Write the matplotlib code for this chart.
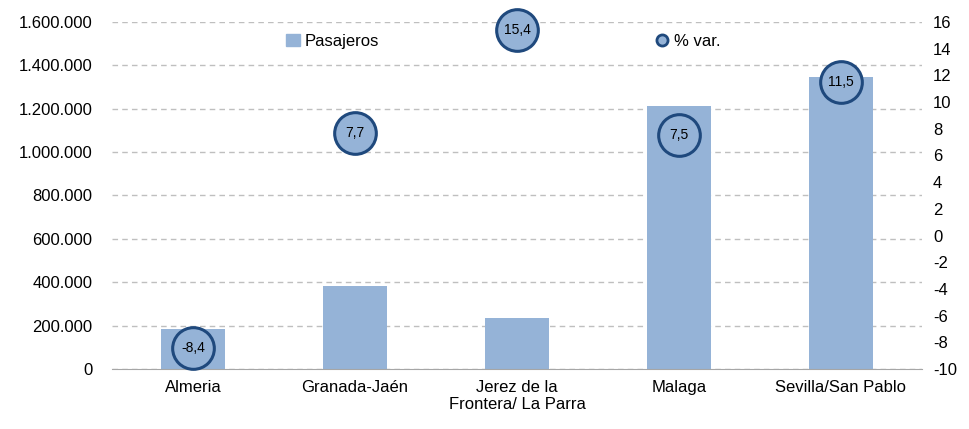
import numpy as np
import matplotlib.pyplot as plt
from matplotlib.lines import Line2D
from matplotlib.patches import Patch

# datos
aeropuertos = ["Almeria", "Granada-Jaén", "Jerez de la\nFrontera/ La Parra", "Malaga", "Sevilla/San Pablo"]
pasajeros = [184000, 383000, 235000, 1213000, 1346000]
variacion = [-8.4, 7.7, 15.4, 7.5, 11.5]
etiquetas_var = ["-8,4", "7,7", "15,4", "7,5", "11,5"]

izq_ticks = np.arange(0, 1600001, 200000)
der_ticks = np.arange(-10, 17, 2)

azul_claro = "#95B3D7"
azul_oscuro = "#1F497D"

plt.rcParams['font.family'] = ['Liberation Sans', 'DejaVu Sans']
plt.rcParams['font.size'] = 12
plt.rcParams['axes.unicode_minus'] = False

fig = plt.figure(figsize=(9.7, 4.29), dpi=100)
ax = fig.add_axes([0.1155, 0.1399, 0.835, 0.8088])
x = np.arange(len(aeropuertos))

ax.bar(x, pasajeros, width=0.4, color=azul_claro, zorder=2)
ax.set_ylim(0, 1600000)
ax.set_xlim(-0.5, len(aeropuertos) - 0.5)
ax.set_yticks(izq_ticks)
ax.set_yticklabels([f"{v:,}".replace(",", ".") for v in izq_ticks])
ax.set_xticks(x)
ax.set_xticklabels(aeropuertos)
ax.grid(axis='y', linestyle=(0, (4, 3)), color='#BFBFBF', linewidth=1, zorder=0)
for s in ['top', 'left', 'right']:
    ax.spines[s].set_visible(False)
ax.spines['bottom'].set_color('#A6A6A6')
ax.tick_params(length=0, pad=8)
ax.tick_params(axis='y', pad=14)

ax2 = ax.twinx()
ax2.set_ylim(-10, 16)
ax2.set_yticks(der_ticks)
for s in ['top', 'left', 'right', 'bottom']:
    ax2.spines[s].set_visible(False)
ax2.tick_params(length=0, pad=8)
ax2.plot(x, variacion, linestyle='none', marker='o', markersize=30,
         markerfacecolor=azul_claro, markeredgecolor=azul_oscuro,
         markeredgewidth=2.2, zorder=3, clip_on=False)
for xi, v, t in zip(x, variacion, etiquetas_var):
    ax2.text(xi, v, t, ha='center', va='center', fontsize=10, zorder=4)

handles = [Patch(color=azul_claro, label="Pasajeros"),
           Line2D([], [], linestyle='none', marker='o', markersize=8,
                  markerfacecolor=azul_claro, markeredgecolor=azul_oscuro,
                  markeredgewidth=2, label="% var.")]
fig.legend(handles=handles, loc='center', bbox_to_anchor=(0.519, 0.903), ncol=2,
           frameon=False, columnspacing=16.6, handlelength=0.8, handletextpad=0.3,
           fontsize=12)

fig.savefig("out.png", dpi=100)
